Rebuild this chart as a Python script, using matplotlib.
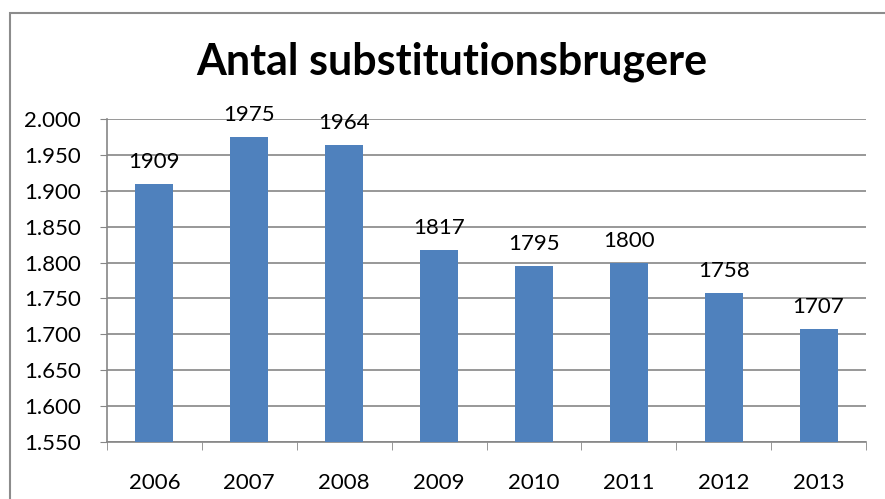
import matplotlib
matplotlib.use("Agg")
import matplotlib.pyplot as plt
from matplotlib.patches import Rectangle
from matplotlib.ticker import FuncFormatter

years = ["2006", "2007", "2008", "2009", "2010", "2011", "2012", "2013"]
values = [1909, 1975, 1964, 1817, 1795, 1800, 1758, 1707]
yticks = [1550, 1600, 1650, 1700, 1750, 1800, 1850, 1900, 1950, 2000]

plt.rcParams['font.family'] = ['Lato', 'DejaVu Sans']

W, H = 885, 499
fig = plt.figure(figsize=(W / 100, H / 100), dpi=100)
fig.patch.set_facecolor("white")

# chart border
fig.add_artist(Rectangle((10 / W, -0.05), 1.0, (H - 13) / H + 0.05,
                         transform=fig.transFigure, fill=False,
                         edgecolor="#8c8c8c", linewidth=1.5))

left, right, top, bottom = 107, 866, 119, 442
ax = fig.add_axes([left / W, 1 - bottom / H, (right - left) / W, (bottom - top) / H])

x = list(range(len(years)))
bars = ax.bar(x, [v - 1550 for v in values], bottom=1550, width=0.4,
              color="#4F81BD", zorder=3)
for xi, v in zip(x, values):
    ax.annotate(str(v), (xi, v), xytext=(0, 11.5), textcoords="offset points",
                ha="center", va="baseline", fontsize=16, color="#000000", zorder=4)

ax.set_xlim(-0.5, len(years) - 0.5)
ax.set_ylim(1550, 2000)
ax.set_yticks(yticks)
ax.yaxis.set_major_formatter(FuncFormatter(lambda v, p: f"{int(v):,}".replace(",", ".")))
ax.set_xticks(x)
ax.set_xticklabels(years)
ax.set_xticks([i - 0.5 for i in range(len(years) + 1)], minor=True)
ax.tick_params(axis="x", which="major", length=0, labelsize=16, pad=22)
ax.tick_params(axis="x", which="minor", length=6, color="#868686", direction="out")
ax.tick_params(axis="y", length=5, color="#868686", labelsize=16, pad=14)
ax.grid(axis="y", color="#868686", linewidth=1.2, zorder=0)
for s in ["top", "right"]:
    ax.spines[s].set_visible(False)
ax.spines["left"].set_color("#868686")
ax.spines["bottom"].set_color("#868686")
ax.spines["left"].set_linewidth(1.2)
ax.spines["bottom"].set_linewidth(1.2)

fig.text(452 / W, 1 - 62 / H, "Antal substitutionsbrugere", ha="center", va="center",
         fontsize=31, fontweight="bold", color="#000000")

fig.savefig("out.png", dpi=100)
